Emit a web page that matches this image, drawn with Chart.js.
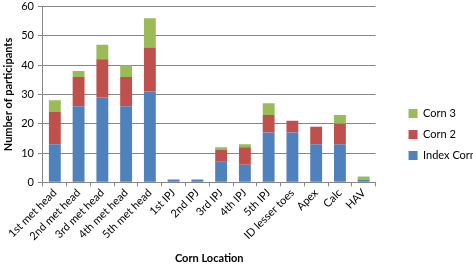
<!DOCTYPE html>
<html>
<head>
<meta charset="utf-8">
<script src="https://cdn.jsdelivr.net/npm/chart.js@4/dist/chart.umd.min.js"></script>
<style>
  html, body { margin: 0; padding: 0; background: #fff; overflow: hidden; }
  #wrap { width: 473px; height: 269px; margin-top: -4px; }
</style>
</head>
<body>
<div id="wrap"><canvas id="cornChart"></canvas></div>
<script>
const locations = ['1st met head', '2nd met head', '3rd met head', '4th met head', '5th met head',
  '1st IPJ', '2nd IPJ', '3rd IPJ', '4th IPJ', '5th IPJ', 'ID lesser toes', 'Apex', 'Calc', 'HAV'];
const indexCorn = [13, 26, 29, 26, 31, 1, 1, 7, 6, 17, 17, 13, 13, 1];
const corn2 = [11, 10, 13, 10, 15, 0, 0, 4, 6, 6, 4, 6, 7, 0];
const corn3 = [4, 2, 5, 4, 10, 0, 0, 1, 1, 4, 0, 0, 3, 1];
const yTicks = [0, 10, 20, 30, 40, 50, 60];

const labelFont = { family: 'Lato', size: 11 };

// push the legend a bit away from the plot, like the original
const legendShift = {
    id: 'legendShift',
    afterLayout(chart) {
        const lg = chart.legend;
        if (!lg) return;
        lg.left += 23; lg.right += 23;
        lg.top += 4; lg.bottom += 4;
    }
};

new Chart(document.getElementById('cornChart'), {
    type: 'bar',
    data: {
        labels: locations,
        datasets: [
            { label: 'Index Corn', data: indexCorn, backgroundColor: '#4F81BD' },
            { label: 'Corn 2', data: corn2, backgroundColor: '#C0504D' },
            { label: 'Corn 3', data: corn3, backgroundColor: '#9BBB59' }
        ]
    },
    plugins: [legendShift],
    options: {
        responsive: true,
        maintainAspectRatio: false,
        animation: false,
        layout: { padding: { top: 0, right: 10, bottom: 0, left: 0 } },
        datasets: { bar: { barPercentage: 0.5, categoryPercentage: 1 } },
        plugins: {
            legend: {
                position: 'right',
                reverse: true,
                labels: {
                    boxWidth: 9, boxHeight: 9, padding: 10,
                    color: '#000', font: { family: 'Lato', size: 11 }
                }
            },
            tooltip: { enabled: false }
        },
        scales: {
            x: {
                stacked: true,
                grid: { display: true, drawOnChartArea: false, drawTicks: true, tickLength: 4, offset: true, color: '#868686' },
                border: { color: '#868686' },
                ticks: { color: '#000', font: labelFont, minRotation: 45, maxRotation: 45, autoSkip: false, padding: 0 },
                title: { display: true, text: 'Corn Location', color: '#000', font: { family: 'Lato', size: 11, weight: 'bold' }, padding: { top: 9, bottom: 0 } }
            },
            y: {
                stacked: true,
                min: 0, max: 60,
                afterBuildTicks: axis => { axis.ticks = yTicks.map(v => ({ value: v })); },
                grid: { color: '#868686', drawTicks: true, tickLength: 5 },
                border: { color: '#868686' },
                ticks: { color: '#000', font: labelFont, padding: 4 },
                title: { display: true, text: 'Number of participants', color: '#000', font: { family: 'Lato', size: 11, weight: 'bold' }, padding: 2 }
            }
        }
    }
});
</script>
</body>
</html>
